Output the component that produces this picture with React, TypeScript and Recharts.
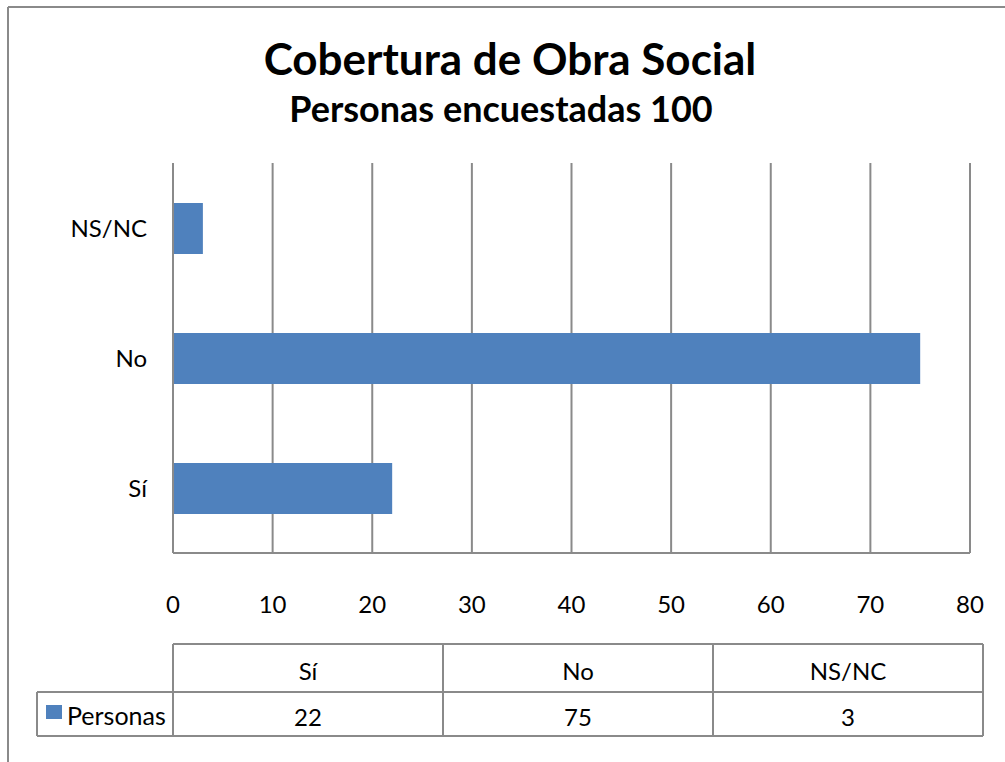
import React from 'react';
import { BarChart, Bar, XAxis, YAxis, CartesianGrid } from 'recharts';

// chart data
const categories = ['Sí', 'No', 'NS/NC'];
const personas = [22, 75, 3];
const xTicks = [0, 10, 20, 30, 40, 50, 60, 70, 80];
const seriesName = 'Personas';
const title = 'Cobertura de Obra Social';
const subtitle = 'Personas encuestadas 100';

const chartData = categories.map((name, i) => ({ name, value: personas[i] }));

const FONT = 'Lato, "Noto Sans", sans-serif';
const GRID = '#8a8a8a';
const BAR = '#4f81bd';

// data table geometry (page coords)
const tableLeft = 37;
const tableFirstCol = 173;
const tableRight = 983;
const headTop = 644;
const rowTop = 692;
const rowBottom = 736;

const App: React.FC = () => {
  const colW = (tableRight - tableFirstCol) / categories.length;

  return (
    <div
      style={{
        position: 'fixed',
        left: 0,
        top: 0,
        width: 1005,
        height: 762,
        overflow: 'hidden',
        background: '#fff',
        fontFamily: FONT
      }}
    >
      <div style={{ position: 'absolute', left: 0, top: 0 }}>
        <BarChart
          width={1005}
          height={640}
          data={chartData}
          layout="vertical"
          margin={{ top: 163, right: 35, bottom: 37, left: 0 }}
          barSize={51}
        >
          <CartesianGrid horizontal={false} stroke={GRID} strokeWidth={2} />
          <XAxis
            type="number"
            domain={[0, 80]}
            ticks={xTicks}
            interval={0}
            height={50}
            axisLine={{ stroke: GRID, strokeWidth: 2 }}
            tickLine={false}
            tickMargin={37}
            tick={{ fill: '#000', fontSize: 24, fontFamily: FONT }}
          />
          <YAxis
            type="category"
            dataKey="name"
            reversed
            width={173}
            axisLine={{ stroke: GRID, strokeWidth: 2 }}
            tickLine={false}
            tickMargin={20}
            tick={{ fill: '#000', fontSize: 24, fontFamily: FONT }}
          />
          <Bar dataKey="value" name={seriesName} fill={BAR} isAnimationActive={false} />
        </BarChart>
      </div>

      <svg
        width={1005}
        height={762}
        style={{ position: 'absolute', left: 0, top: 0, pointerEvents: 'none' }}
        fontFamily={FONT}
      >
        {/* chart area border */}
        <line x1={8} y1={7} x2={1005} y2={7} stroke={GRID} strokeWidth={2} />
        <line x1={8} y1={7} x2={8} y2={762} stroke={GRID} strokeWidth={2} />

        <text x={510} y={75} textAnchor="middle" fontSize={44} fontWeight={700} fill="#000">
          {title}
        </text>
        <text x={501} y={122} textAnchor="middle" fontSize={36} fontWeight={700} fill="#000">
          {subtitle}
        </text>

        {/* data table */}
        <g stroke={GRID} strokeWidth={2} fill="none">
          <line x1={tableFirstCol} y1={headTop} x2={tableRight} y2={headTop} />
          <line x1={tableLeft} y1={rowTop} x2={tableRight} y2={rowTop} />
          <line x1={tableLeft} y1={rowBottom} x2={tableRight} y2={rowBottom} />
          <line x1={tableLeft} y1={rowTop} x2={tableLeft} y2={rowBottom} />
          {categories.map((c, i) => (
            <line
              key={c}
              x1={tableFirstCol + i * colW}
              y1={headTop}
              x2={tableFirstCol + i * colW}
              y2={rowBottom}
            />
          ))}
          <line x1={tableRight} y1={headTop} x2={tableRight} y2={rowBottom} />
        </g>
        {categories.map((c, i) => (
          <text
            key={'h' + c}
            x={tableFirstCol + (i + 0.5) * colW}
            y={680}
            textAnchor="middle"
            fontSize={24}
            fill="#000"
          >
            {c}
          </text>
        ))}
        {personas.map((v, i) => (
          <text
            key={'v' + i}
            x={tableFirstCol + (i + 0.5) * colW}
            y={726}
            textAnchor="middle"
            fontSize={24}
            fill="#000"
          >
            {v}
          </text>
        ))}
        <rect x={46} y={705} width={16} height={14} fill={BAR} />
        <text x={67} y={725} fontSize={25} fill="#000">
          {seriesName}
        </text>
      </svg>
    </div>
  );
};

export default App;
